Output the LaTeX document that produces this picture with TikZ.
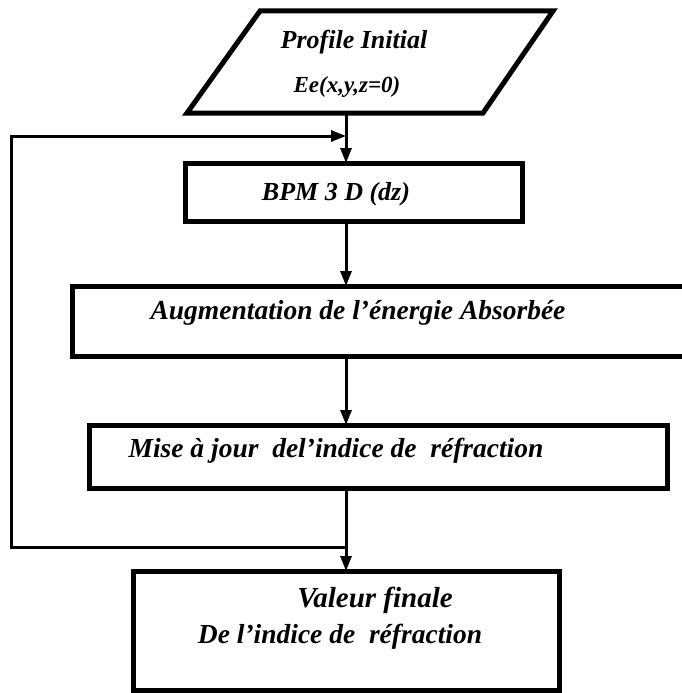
\documentclass[tikz,border=0pt]{standalone}
\usepackage{fontspec}
\setmainfont{Liberation Serif}
\usetikzlibrary{arrows.meta}
\begin{document}
\begin{tikzpicture}[x=1pt,y=-1pt,
  boxline/.style={line width=5pt,line join=miter},
  conn/.style={line width=3pt,-{Triangle[width=11pt,length=15pt]}},
  lbl/.style={font=\fontsize{27.5}{31}\selectfont\bfseries\itshape,inner sep=0pt},
  mlbl/.style={font=\fontsize{26}{30}\selectfont\bfseries\itshape,inner sep=0pt},
  slbl/.style={font=\fontsize{23}{27}\selectfont\bfseries\itshape,inner sep=0pt}]
\useasboundingbox (0,0) rectangle (682,693);
% shapes
\draw[boxline] (187,113) -- (483,113) -- (553,11) -- (260,11) -- cycle;
\coordinate (pbot) at (346,113);
\node[mlbl] (t1) at (354,42) {Profile Initial};
\node[slbl] (t2) at (347,87) {Ee(x,y,z=0)};

\draw[boxline] (185,163) rectangle (522,221);
\coordinate (bpmtop) at (346,163);
\coordinate (bpmbot) at (346,221);
\node[mlbl] (bpm) at (336,194) {BPM 3 D (dz)};

\draw[boxline] (700,286) -- (72,286) -- (72,356) -- (700,356);
\coordinate (augtop) at (346,286);
\coordinate (augbot) at (346,356);
\node[lbl] (aug) at (358,313) {Augmentation de l'énergie Absorbée};

\draw[boxline] (89,425) rectangle (667,488);
\coordinate (mistop) at (346,425);
\coordinate (misbot) at (346,488);
\node[lbl] (mis) at (336,451) {Mise à jour\ \ del'indice de\ \ réfraction};

\draw[boxline] (133,571) rectangle (559,690);
\coordinate (valtop) at (346,571);
\node[font=\fontsize{29}{33}\selectfont\bfseries\itshape,inner sep=0pt] (v1) at (375,600) {Valeur finale};
\node[lbl] (v2) at (340,637) {De l'indice de\ \ réfraction};

% connectors
\coordinate (ltop) at (346,136);
\coordinate (lbot) at (346,547);
\coordinate (c1) at (11,547);
\coordinate (c2) at (11,136);
\draw[conn] (pbot) -- (bpmtop);
\draw[conn] (bpmbot) -- (augtop);
\draw[conn] (augbot) -- (mistop);
\draw[conn] (misbot) -- (valtop);
\draw[conn] (lbot) -- (c1) -- (c2) -- (ltop);
\end{tikzpicture}
\end{document}
